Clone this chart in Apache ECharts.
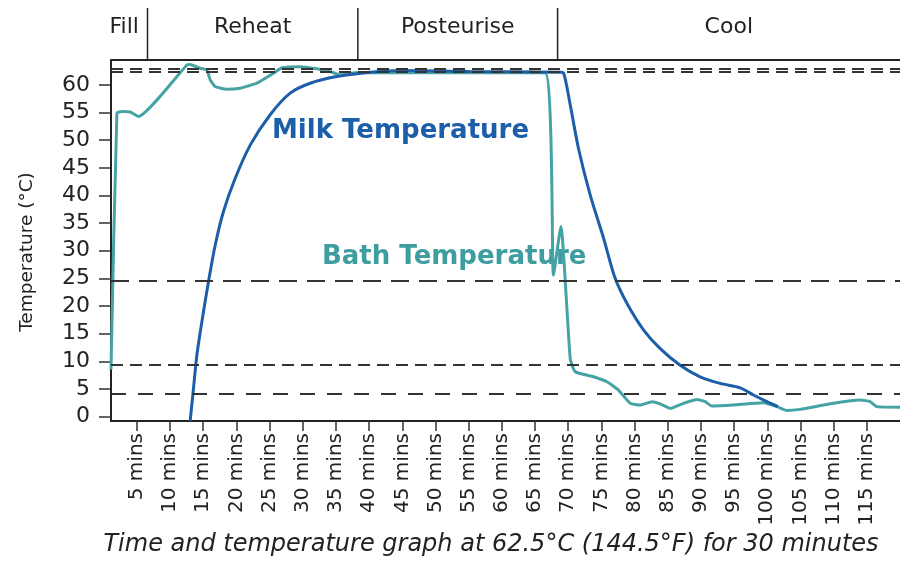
<!DOCTYPE html>
<html>
<head>
<meta charset="utf-8">
<script src="https://cdn.jsdelivr.net/npm/echarts@6/dist/echarts.min.js"></script>
<style>
html,body{margin:0;padding:0;background:#fff;}
#c{width:900px;height:561px;}
</style>
</head>
<body>
<div id="c"></div>
<script>
// ---- data ----
const timeTicks = [5,10,15,20,25,30,35,40,45,50,55,60,65,70,75,80,85,90,95,100,105,110,115];
const tempTicks = [0,5,10,15,20,25,30,35,40,45,50,55,60];

const bathTime = [1.1, 1.99, 2.74, 3.99, 5.24, 12.54, 13.03, 14.54, 15.55, 16.05, 16.8, 18.57, 20.57, 23.09, 25.59, 26.85, 29.61, 32.13, 34.13, 35.64, 38.0, 66.5,
  67.78, 68.9, 70.3, 71.05, 73.81, 75.83, 77.58, 79.34, 80.85, 82.61, 83.86, 85.37, 87.37, 89.39, 90.64, 91.65, 94.9, 99.43, 101.45, 102.95, 104.96, 109.97, 113.99, 115.5, 116.5, 120];
const bathTemp = [8.5, 54.9, 55.2, 55.1, 54.3, 63.6, 63.7, 63.0, 62.7, 60.9, 59.7, 59.2, 59.4, 60.3, 62.1, 63.1, 63.3, 62.9, 62.4, 61.8, 62.2, 62.2,
  25.6, 34.4, 10.5, 8.1, 7.2, 6.3, 4.8, 2.4, 2.1, 2.7, 2.3, 1.5, 2.4, 3.1, 2.7, 1.9, 2.1, 2.5, 1.8, 1.1, 1.3, 2.4, 3.0, 2.7, 1.8, 1.7];

const milkTime = [13.03, 13.53, 14.04, 14.8, 15.79, 16.8, 18.05, 19.82, 22.08, 25.09, 28.1, 31.12, 35.14, 40.16, 45.18, 55.0, 68.9, 69.29,
  70.3, 71.55, 73.31, 75.32, 77.08, 78.84, 81.34, 83.86, 86.87, 89.88, 92.89, 95.91, 97.92, 99.94, 101.6];
const milkTemp = [-0.8, 5.1, 11.1, 17.2, 24.4, 31.0, 37.1, 43.1, 49.1, 54.6, 58.5, 60.3, 61.5, 62.3, 62.6, 62.4, 62.3, 62.2,
  56.4, 48.5, 40.1, 32.3, 25.0, 20.5, 15.7, 12.3, 9.3, 7.2, 6.0, 5.2, 3.9, 2.7, 1.8];

const refLines = [63.0, 62.3, 24.5, 9.3, 4.2];
const phaseNames = ['Fill', 'Reheat', 'Posteurise', 'Cool'];
const phaseBounds = [1.1, 6.6, 38.3, 68.4, 120];

const seriesNames = ['Milk Temperature', 'Bath Temperature'];
const captionText = 'Time and temperature graph at 62.5°C (144.5°F) for 30 minutes';
const yName = 'Temperature (°C)';

// ---- chart ----
const FONT = 'DejaVu Sans';
const chart = echarts.init(document.getElementById('c'), null, {renderer: 'canvas'});

const dashStyles = [
  {type: [12, 7], width: 1.8},
  {type: [12, 7], width: 1.8},
  {type: [18, 10], width: 1.8},
  {type: [12, 7], width: 1.8},
  {type: [15, 12], width: 1.8}
];

const option = {
  animation: false,
  backgroundColor: '#ffffff',
  grid: {left: 111, right: 0, top: 60, bottom: 140, containLabel: false},
  xAxis: {
    type: 'value', min: 1.1, max: 120,
    splitLine: {show: false},
    axisLine: {show: true, onZero: false, lineStyle: {color: '#222', width: 2}},
    axisTick: {show: true, customValues: timeTicks, length: 10, lineStyle: {color: '#333', width: 1.5}},
    axisLabel: {
      customValues: timeTicks, rotate: 90, margin: 12,
      formatter: v => v + ' mins',
      fontFamily: FONT, fontSize: 20, color: '#222'
    }
  },
  yAxis: {
    type: 'value', min: -0.8, max: 64.5,
    splitLine: {show: false},
    axisLine: {show: true, onZero: false, lineStyle: {color: '#222', width: 2}},
    axisTick: {show: true, customValues: tempTicks, length: 12, lineStyle: {color: '#333', width: 1.5}},
    axisLabel: {
      customValues: tempTicks, margin: 21,
      fontFamily: FONT, fontSize: 22, color: '#222'
    }
  },
  series: [
    {
      name: seriesNames[1], type: 'line',
      data: bathTime.map((t, i) => [t, bathTemp[i]]),
      showSymbol: false, symbol: 'none',
      lineStyle: {color: '#45a3a3', width: 3},
      smooth: 0.15,
      z: 3,
      markLine: {
        silent: true, symbol: 'none', animation: false,
        label: {show: false},
        data: refLines.map((v, i) => ({yAxis: v, lineStyle: Object.assign({color: '#333'}, dashStyles[i])}))
      }
    },
    {
      name: seriesNames[0], type: 'line',
      data: milkTime.map((t, i) => [t, milkTemp[i]]),
      showSymbol: false, symbol: 'none',
      lineStyle: {color: '#1c5fa8', width: 3},
      smooth: 0.3,
      z: 4
    }
  ]
};
chart.setOption(option);

// phase band at top + annotations
const px = t => chart.convertToPixel({xAxisIndex: 0}, t);
const gTop = 60;
const graphics = [];
graphics.push({type: 'line', shape: {x1: px(phaseBounds[0]), y1: gTop, x2: 900, y2: gTop}, style: {stroke: '#222', lineWidth: 2}, z: 10});
for (let i = 1; i < phaseBounds.length - 1; i++) {
  const x = px(phaseBounds[i]);
  graphics.push({type: 'line', shape: {x1: x, y1: 8, x2: x, y2: gTop}, style: {stroke: '#222', lineWidth: 1.5}, z: 10});
}
for (let i = 0; i < phaseNames.length; i++) {
  let cx = (px(phaseBounds[i]) + px(phaseBounds[i + 1])) / 2;
  if (i === 0) cx -= 5;
  graphics.push({type: 'text', x: cx, y: 27, style: {text: phaseNames[i], font: '22px "DejaVu Sans"', fill: '#222', textAlign: 'center', textVerticalAlign: 'middle'}, z: 10});
}
graphics.push({type: 'text', x: 272, y: 131, style: {text: seriesNames[0], font: 'bold 26px "DejaVu Sans"', fill: '#1c5fa8', textAlign: 'left', textVerticalAlign: 'middle'}, z: 10});
graphics.push({type: 'text', x: 322, y: 257, style: {text: seriesNames[1], font: 'bold 26px "DejaVu Sans"', fill: '#3e9d9f', textAlign: 'left', textVerticalAlign: 'middle'}, z: 2});
graphics.push({type: 'text', x: 491, y: 545, style: {text: captionText, font: 'italic 24px "DejaVu Sans"', fill: '#222', textAlign: 'center', textVerticalAlign: 'middle'}, z: 10});
graphics.push({type: 'text', x: 27, y: 252, rotation: Math.PI / 2, style: {text: yName, font: '18.5px "DejaVu Sans"', fill: '#222', textAlign: 'center', textVerticalAlign: 'middle'}, z: 10});
chart.setOption({graphic: graphics});
</script>
</body>
</html>
